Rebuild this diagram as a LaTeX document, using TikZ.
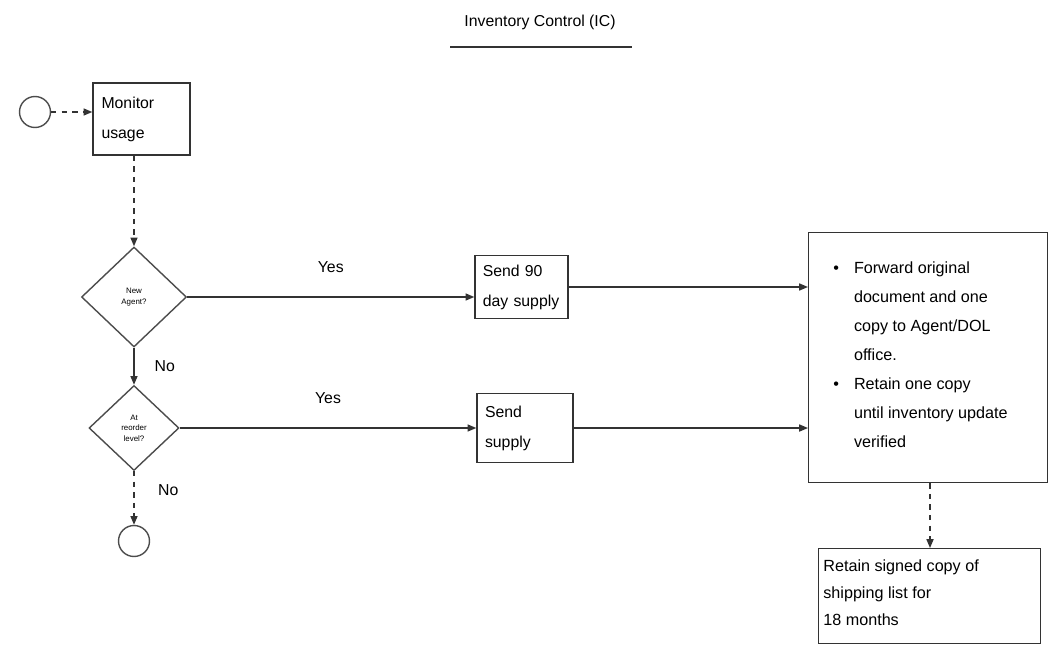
\documentclass[tikz,border=0pt]{standalone}
\usepackage{fontspec}
\setmainfont{Liberation Sans}
\usetikzlibrary{shapes.geometric, arrows.meta, positioning, calc}

\begin{document}
\begin{tikzpicture}[
    x=0.02cm, y=-0.02cm,
    font=\fontsize{9}{17}\selectfont,
    box/.style={rectangle, draw=black!80, thick, align=left, inner sep=4pt},
    decision/.style={diamond, draw=black!70, thick, minimum width=2.1cm, minimum height=2cm, inner sep=0pt, font=\fontsize{4.5}{6}\selectfont, align=center},
    conn/.style={circle, draw=black!70, thick, minimum size=0.62cm, inner sep=0pt, font=\scriptsize},
    flow/.style={draw=black!80, thick, -{Triangle[length=5pt, width=4pt]}},
    dflow/.style={flow, dashed}
]
\useasboundingbox (0,0) rectangle (1050,645);

% Title
\node (title) at (540,22) {Inventory Control (IC)};
\draw[black!80, thick] (450,47) -- (632,47);

% Monitor usage
\node[conn] (start) at (35,112) {};
\node[box, minimum width=1.94cm, minimum height=1.44cm, text width=1.6cm] (monitor) at (141.5,119) {Monitor\\usage};
\draw[dflow] (start) -- (start -| monitor.west);

% New agent
\node[decision] (newagent) at (134,297) {New\\Agent?};
\draw[dflow] (monitor.south -| newagent) -- (newagent);

% Reorder level
\node[decision, minimum width=1.8cm, minimum height=1.7cm] (reorder) at (134,428) {At\\reorder\\level?};
\draw[flow] (newagent) -- node[right=8pt] {No} (reorder);

\node[conn] (next) at (134,541) {};
\draw[dflow] (reorder) -- node[right=10pt, pos=0.35] {No} (next);

% Send boxes
\node[box, minimum width=1.86cm, minimum height=1.26cm, text width=1.55cm] (send90) at (521.5,287) {Send 90\\day supply};
\node[box, minimum width=1.92cm, minimum height=1.38cm, text width=1.6cm] (sendsup) at (525,428) {Send\\supply};
\draw[flow] (newagent.east) -- node[above=10pt] {Yes} (newagent.east -| send90.west);
\draw[flow] (reorder.east) -- node[above=10pt] {Yes} (reorder.east -| sendsup.west);

% Forward / retain
\node[box, minimum width=4.78cm, minimum height=5cm, anchor=north west] (fwd) at (808,232) {};
\node[anchor=north west, inner sep=0pt, font=\fontsize{9.2}{16.5}\selectfont] (fwdtext) at ([xshift=0.5cm, yshift=-0.42cm]fwd.north west) {%
  \begin{tabular}{@{}l@{\hspace{0.3cm}}l@{}}
  \textbullet & Forward original\\
   & document and one\\
   & copy to Agent/DOL\\
   & office.\\
  \textbullet & Retain one copy\\
   & until inventory update\\
   & verified
  \end{tabular}};
\draw[flow] (send90.east) -- (send90.east -| fwd.west);
\draw[flow] (sendsup.east) -- (sendsup.east -| fwd.west);

\node[box, minimum width=4.44cm, minimum height=1.9cm, anchor=north west, text width=4.1cm, inner sep=0pt] (retain) at (818,548) {};
\node[anchor=north west, align=left, inner sep=0pt, font=\fontsize{9.2}{15.5}\selectfont] (retaintext) at ([xshift=0.1cm, yshift=-0.22cm]retain.north west) {Retain signed copy of\\shipping list for\\18 months};
\draw[dflow] (fwd.south -| 930,0) -- (retain.north -| 930,0);

\end{tikzpicture}
\end{document}
